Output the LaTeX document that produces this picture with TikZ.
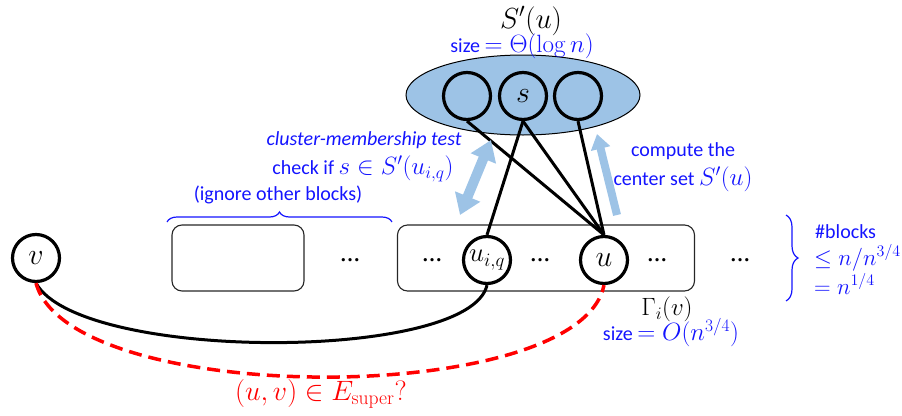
\RequirePackage{fix-cm}
\documentclass[tikz,border=0pt]{standalone}
\usepackage[no-math]{fontspec}
\setmainfont{Carlito}
\newfontfamily\dotsfont{Liberation Serif}
\usetikzlibrary{shapes.geometric,arrows.meta,decorations.pathreplacing}
\definecolor{tblue}{RGB}{20,20,255}
\definecolor{lblue}{RGB}{157,195,230}
\definecolor{tred}{RGB}{255,0,0}
\newcommand\mth[1]{{\fontsize{25}{30}\selectfont$#1$}}
\newcommand\mths[1]{{\fontsize{23}{28}\selectfont$#1$}}
\tikzset{
  vert/.style={circle, draw, line width=3.2pt, minimum size=47pt, inner sep=0pt, font=\fontsize{30}{34}\selectfont},
  blk/.style={draw=black!85, line width=1.1pt, rounded corners=10pt, minimum height=66pt, inner sep=0pt},
  lbl/.style={text=tblue, font=\fontsize{20}{24}\selectfont, inner sep=0pt},
  conn/.style={line width=3pt},
  dotsn/.style={font=\dotsfont\fontsize{20}{24}\selectfont\bfseries, inner sep=0pt},
  bracelbl/.style={draw=tblue, line width=1.2pt, decorate},
}
\begin{document}
\begin{tikzpicture}[x=1pt,y=-1pt]
\useasboundingbox (0,0) rectangle (902,415);
% center set ellipse
\node[ellipse, draw, line width=1pt, fill=lblue, minimum width=234pt, minimum height=80pt] (ell) at (523,95) {};
\node[vert] (c1) at (467,96) {};
\node[vert] (cs) at (523,96) {$s$};
\node[vert] (c3) at (578,96) {};
\node[font=\fontsize{29}{34}\selectfont, inner sep=0pt] (Slabel) at (531,21) {$S'(u)$};
\node[lbl] (Ssize) at (522,46) {size \mth{=\Theta(\log n)}};
% blocks
\node[blk, minimum width=132pt] (boxL) at (238,258) {};
\node[blk, minimum width=297pt] (boxR) at (546,258) {};
\node[dotsn] (d1) at (350,260) {…};
\node[dotsn] (d2) at (432,260) {…};
\node[dotsn] (d3) at (540,260) {…};
\node[dotsn] (d4) at (657,260) {…};
\node[dotsn] (d5) at (740,260) {…};
% vertices
\node[vert] (v) at (36,258) {$v$};
\node[vert, font=\fontsize{27}{30}\selectfont] (uiq) at (487,260) {$u_{i,q}$};
\node[vert] (u) at (604,260) {$u$};
% connectors
\draw[conn] (c1.south) -- (u.north);
\draw[conn] (cs.south) -- (u.north);
\draw[conn] (c3.south) -- (u.north);
\draw[conn] (cs.south) -- (uiq.north);
\draw[conn] (v.south) .. controls +(44,79) and +(-17,77) .. (uiq.south);
\draw[line width=3.5pt, tred, dash pattern=on 13pt off 7pt] (v.south) .. controls +(34,125) and +(-24,123) .. (u.south);
% block arrows
\coordinate (a1) at (460,215);
\coordinate (a2) at (491,140);
\draw[lblue, line width=10pt, {Triangle[width=26pt,length=20pt]}-{Triangle[width=26pt,length=20pt]}] (a1) -- (a2);
\coordinate (b1) at (617,215);
\coordinate (b2) at (597,134);
\draw[lblue, line width=8pt, -{Triangle[width=19pt,length=15pt]}] (b1) -- (b2);
% labels
\node[lbl, font=\fontsize{20}{24}\selectfont\itshape] (cmt) at (364,140) {cluster-membership test};
\node[lbl] (chk) at (363,169) {check if \mth{s\in S'(u_{i,q})}};
\node[lbl] (ign) at (278,195) {(ignore other blocks)};
\node[lbl] (cmp1) at (683,151) {compute the};
\node[lbl] (cmp2) at (683,179) {center set \mth{S'(u)}};
\node[font=\fontsize{25}{30}\selectfont, inner sep=0pt] (gam) at (667,309) {$\Gamma_i(v)$};
\node[lbl] (gsize) at (671,333) {size \mth{=O\bigl(n^{3/4}\bigr)}};
\node[lbl, anchor=west] (nb1) at (815,232) {\#blocks};
\node[lbl, anchor=west] (nb2) at (814,258) {\mths{\le n/n^{3/4}}};
\node[lbl, anchor=west] (nb3) at (814,284) {\mths{= n^{1/4}}};
\node[text=tred, font=\fontsize{28}{32}\selectfont, inner sep=0pt] (q) at (321,394) {$(u,v)\in E_{\mathrm{super}}?$};
% braces
\coordinate (br1) at (167,222);
\coordinate (br2) at (392,222);
\draw[bracelbl, decoration={brace, amplitude=10pt}] (br1) -- (br2);
\coordinate (br3) at (786,215);
\coordinate (br4) at (786,301);
\draw[bracelbl, decoration={brace, amplitude=12pt}] (br3) -- (br4);
\end{tikzpicture}
\end{document}
